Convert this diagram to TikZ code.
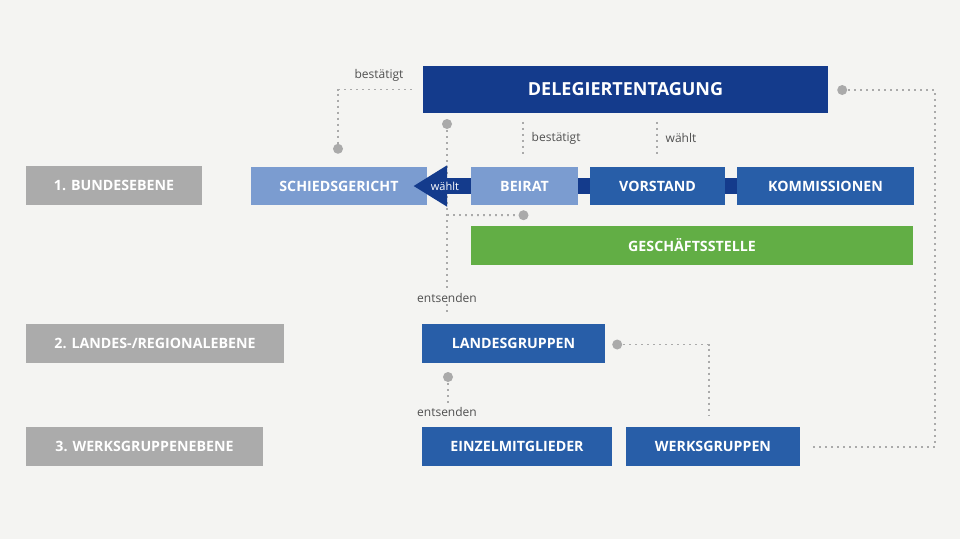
\documentclass[tikz,border=0pt]{standalone}
\usepackage{fontspec}
\setmainfont{Open Sans}
\usetikzlibrary{calc,arrows.meta}
\definecolor{bg}{HTML}{F4F4F2}
\definecolor{lvlgrey}{HTML}{ABABAB}
\definecolor{dkblue}{HTML}{143B8C}
\definecolor{ltblue}{HTML}{7B9CD0}
\definecolor{mdblue}{HTML}{285EA8}
\definecolor{grn}{HTML}{62AE45}
\definecolor{dotgrey}{HTML}{AAAAAA}
\definecolor{lbltext}{HTML}{505050}
\tikzset{
  box/.style={minimum height=39pt, inner sep=0pt, text=white, font=\bfseries\fontsize{14.2}{16}\selectfont},
  lvlbox/.style={box, fill=lvlgrey},
  ltbox/.style={box, fill=ltblue, minimum height=38pt},
  mdbox/.style={box, fill=mdblue},
  dotline/.style={draw=dotgrey, line width=1.9pt, dash pattern=on 1.9pt off 4.1pt},
  enddot/.style={fill=dotgrey},
  lbl/.style={text=lbltext, font=\fontsize{12}{14}\selectfont, inner sep=1.5pt},
  bar/.style={draw=dkblue, line width=16pt}
}
\begin{document}
\begin{tikzpicture}[x=1pt,y=-1pt]
\fill[bg] (0,0) rectangle (960,539);
\useasboundingbox (0,0) rectangle (960,539);

% level labels
\node[lvlbox, minimum width=176pt] (lvl1) at (114,185.5) {1. BUNDESEBENE};
\node[lvlbox, minimum width=258pt] (lvl2) at (155,343.5) {2. LANDES-/REGIONALEBENE};
\node[lvlbox, minimum width=237pt] (lvl3) at (144.5,446.5) {3. WERKSGRUPPENEBENE};

% main boxes
\node[box, fill=dkblue, minimum width=405pt, minimum height=47pt, font=\bfseries\fontsize{18}{20}\selectfont] (del) at (625.5,89.5) {DELEGIERTENTAGUNG};
\node[ltbox, minimum width=176pt] (schied) at (339,186) {SCHIEDSGERICHT};
\node[ltbox, minimum width=107pt] (beirat) at (524.5,186) {BEIRAT};
\node[mdbox, minimum width=135pt, minimum height=38pt] (vorstand) at (657.5,186) {VORSTAND};
\node[mdbox, minimum width=177pt, minimum height=38pt] (komm) at (825.5,186) {KOMMISSIONEN};
\node[box, fill=grn, minimum width=442pt] (gesch) at (692,245.5) {GESCHÄFTSSTELLE};
\node[mdbox, minimum width=183pt] (landes) at (513.5,343.5) {LANDESGRUPPEN};
\node[mdbox, minimum width=190pt] (einzel) at (517,446.5) {EINZELMITGLIEDER};
\node[mdbox, minimum width=174pt] (werks) at (713,446.5) {WERKSGRUPPEN};

% dot coordinates
\coordinate (dA) at ($(schied.north)+(-1,-18)$);
\coordinate (dB) at (447,124);
\coordinate (dC) at ($(beirat.south)+(-1,10)$);
\coordinate (dD) at ($(del.east)+(14,0.5)$);
\coordinate (dE) at ($(landes.east)+(12,1)$);
\coordinate (dF) at (448,377);

% dotted connectors
\draw[dotline] ($(del.west)+(-11,0)$) -| (dA);
\node[lbl] (lblA) at (379,75) {bestätigt};

\draw[dotline] (dB) -- ($(landes.north)+(-66.5,-8)$);
\draw[dotline] (447,215) -- (dC);
\node[lbl, fill=bg] (lblB) at (447,298) {entsenden};

\draw[dotline] ($(beirat.north)+(-1.5,-45)$) -- ($(beirat.north)+(-1.5,-12)$);
\node[lbl, anchor=west] (lblC) at (530,138) {bestätigt};

\draw[dotline] ($(vorstand.north)+(-0.5,-45)$) -- ($(vorstand.north)+(-0.5,-12)$);
\node[lbl, anchor=west] (lblD) at (664,138) {wählt};

\draw[dotline] (dD) -- (935,90) -- (935,447) -- ($(werks.east)+(10,0.5)$);

\draw[dotline] (dE) -| ($(werks.north)+(-4,-11)$);

\draw[dotline] (dF) -- ($(einzel.north)+(-69,-8)$);
\node[lbl, fill=bg] (lblE) at (447,412) {entsenden};

% end dots
\foreach \d in {dA,dB,dC,dD,dE,dF} \fill[enddot] (\d) circle (5pt);

% solid connector bars
\draw[bar] (beirat.east) -- (vorstand.west);
\draw[bar] (vorstand.east) -- (komm.west);
\draw[bar, -{Triangle[length=34pt,width=39pt]}] (beirat.west) -- ($(schied.east)+(-14,0)$)
  node[pos=0.45, text=white, font=\fontsize{11}{13}\selectfont, inner sep=0pt] (waehlt) {wählt};
\end{tikzpicture}
\end{document}
